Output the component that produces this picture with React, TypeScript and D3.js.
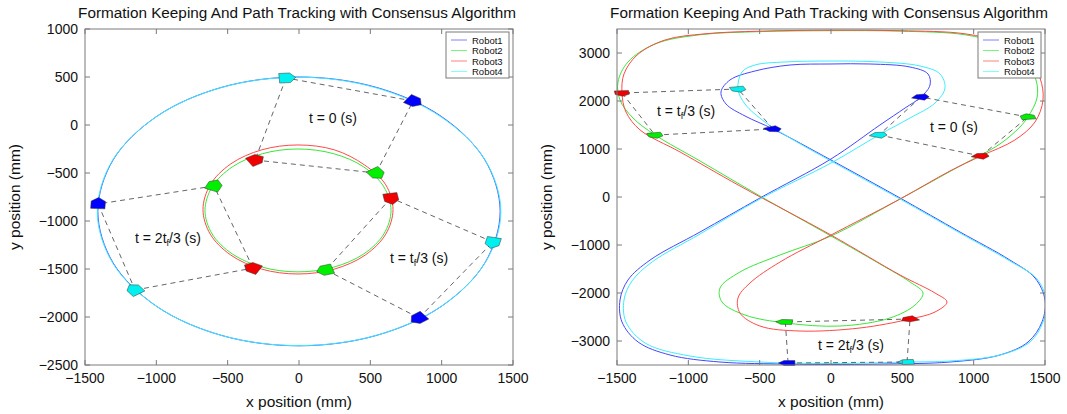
import React from 'react';
import * as d3 from 'd3';

// ---------- DATA ----------
const robots = ['Robot1', 'Robot2', 'Robot3', 'Robot4'];
const xTicks = [-1500, -1000, -500, 0, 500, 1000, 1500];
const leftYTicks = [1000, 500, 0, -500, -1000, -1500, -2000, -2500];
const rightYTicks = [3000, 2000, 1000, 0, -1000, -2000, -3000];
const titleText = 'Formation Keeping And Path Tracking with Consensus Algorithm';

// Left panel paths (mm), closed curves
const leftPathRobot1: [number, number][] = [
  [1410, -900], [1303, -364], [997, 90], [540, 393], [0, 500], [-540, 393], [-997, 90], [-1303, -364],
  [-1410, -900], [-1303, -1436], [-997, -1890], [-540, -2193], [0, -2300], [540, -2193], [997, -1890], [1303, -1436],
];
const leftPathRobot4: [number, number][] = [
  [1415, -905], [1306, -368], [995, 85], [535, 390], [-5, 498], [-545, 390], [-1000, 86], [-1307, -368],
  [-1414, -905], [-1305, -1440], [-994, -1893], [-536, -2195], [5, -2298], [545, -2190], [1000, -1886], [1306, -1432],
];
const leftPathRobot2: [number, number][] = [
  [645, -890], [595, -645], [454, -437], [243, -299], [-7, -250], [-257, -299], [-468, -437], [-609, -645],
  [-659, -890], [-609, -1135], [-468, -1343], [-257, -1481], [-7, -1530], [243, -1481], [454, -1343], [595, -1135],
];
const leftPathRobot3: [number, number][] = [
  [659, -880], [608, -623], [458, -415], [248, -259], [-7, -208], [-262, -259], [-478, -405], [-622, -623],
  [-673, -880], [-622, -1137], [-478, -1355], [-262, -1501], [-7, -1552], [248, -1501], [464, -1355], [608, -1137],
];

// Right panel paths (mm), closed curves
const rightPathRobot1: [number, number][] = [
  [631, 2083], [694, 2333], [680, 2563], [554, 2708], [273, 2771], [0, 2771], [-287, 2750], [-533, 2625],
  [-708, 2438], [-771, 2188], [-736, 1938], [-603, 1688], [-406, 1417], [0, 771], [484, -21], [904, -729],
  [1254, -1313], [1430, -1688], [1500, -2146], [1479, -2604], [1381, -3021], [1184, -3292], [834, -3438],
  [343, -3480], [0, -3490], [-301, -3480], [-778, -3438], [-1128, -3292], [-1352, -3021], [-1465, -2604],
  [-1479, -2146], [-1423, -1729], [-1268, -1313], [-918, -729], [-498, -21], [0, 792], [343, 1500], [519, 1854],
];
const rightPathRobot4: [number, number][] = [
  [336, 1292], [554, 1646], [729, 1958], [799, 2271], [764, 2563], [624, 2729], [343, 2813], [0, 2833],
  [-322, 2813], [-533, 2750], [-624, 2604], [-652, 2250], [-603, 1938], [-463, 1563], [-287, 1229], [0, 750],
  [484, -42], [904, -750], [1254, -1333], [1444, -1708], [1507, -2146], [1486, -2604], [1395, -3021],
  [1184, -3292], [834, -3417], [533, -3438], [0, -3470], [-498, -3438], [-988, -3313], [-1303, -3042],
  [-1437, -2604], [-1451, -2146], [-1395, -1750], [-1254, -1354], [-918, -771], [-498, -42], [0, 708],
];
const rightPathRobot3: [number, number][] = [
  [1051, 854], [1289, 1188], [1430, 1563], [1486, 2021], [1465, 2479], [1381, 2896], [1205, 3208], [939, 3400],
  [484, 3465], [0, 3475], [-498, 3455], [-883, 3400], [-1163, 3271], [-1359, 2958], [-1451, 2563],
  [-1465, 2167], [-1437, 1771], [-1338, 1396], [-1058, 938], [-638, 229], [0, -792], [484, -1625],
  [729, -2000], [813, -2188], [729, -2396], [554, -2542], [203, -2729], [-217, -2792], [-498, -2688],
  [-638, -2417], [-652, -2104], [-568, -1792], [-357, -1354], [0, -792], [484, -42], [834, 542],
];
const rightPathRobot2: [number, number][] = [
  [1380, 1667], [1444, 2063], [1437, 2438], [1359, 2854], [1184, 3188], [939, 3380], [484, 3455], [0, 3465],
  [-498, 3445], [-918, 3380], [-1233, 3188], [-1423, 2813], [-1493, 2396], [-1479, 2021], [-1388, 1646],
  [-1233, 1292], [-918, 750], [-498, 21], [0, -813], [343, -1396], [554, -1771], [645, -2000], [589, -2250],
  [413, -2521], [63, -2688], [-315, -2625], [-603, -2458], [-764, -2188], [-778, -1896], [-638, -1563],
  [-357, -1208], [0, -813], [484, -42], [904, 646], [1184, 1104], [1324, 1458],
];

// Robot poses [x, y, heading in degrees] per time instant: Robot1..Robot4
const leftPosesT0: [number, number, number][] = [[800, 250, -34], [540, -500, -54], [-308, -365, 31], [-91, 490, 4]];
const leftPosesT1: [number, number, number][] = [[841, -2010, -143], [189, -1510, -163], [645, -760, -80], [1359, -1219, -103]];
const leftPosesT2: [number, number, number][] = [[-1408, -823, 87], [-596, -635, 66], [-322, -1490, 152], [-1149, -1719, 126]];
const rightPosesT0: [number, number, number][] = [[631, 2083, 64], [1380, 1667, 100], [1051, 854, 58], [336, 1292, 59]];
const rightPosesT1: [number, number, number][] = [[-406, 1417, -57], [-1233, 1290, -77], [-1465, 2167, -85], [-652, 2250, -75]];
const rightPosesT2: [number, number, number][] = [[-301, -3458, 180], [-320, -2604, 175], [554, -2542, -150], [533, -3438, 185]];

// Formation edges (robot indices)
const formationEdges: [number, number][] = [[0, 3], [3, 2], [2, 1], [1, 0]];

// ---------- STYLE ----------
const lineColors = ['#4646ff', '#3ae63a', '#ff4848', '#3aeeff'];
const legendColors = ['#8080ff', '#7cf57c', '#ff8080', '#80ffff'];
const fillColors = ['#0000ff', '#00f000', '#f00000', '#00f0f0'];
const FONT = 'Liberation Sans, Arial, Helvetica, sans-serif';
const robotShape: [number, number][] = [[68, 0], [28, 50], [-48, 50], [-48, -50], [28, -50]];

type Scale = d3.ScaleLinear<number, number>;

function Panel({ sx, sy, yTicks, paths, poses, labels }: {
  sx: Scale; sy: Scale; yTicks: number[];
  paths: [number, number][][];
  poses: [number, number, number][][];
  labels: { x: number; y: number; pre: string; sub?: string; post?: string }[];
}) {
  const [x0, x1] = sx.range();
  const [y0, y1] = sy.range(); // y0 bottom, y1 top
  const id = 'clip' + Math.round(x0);
  const line = d3.line<[number, number]>().x(d => sx(d[0])).y(d => sy(d[1])).curve(d3.curveCatmullRomClosed.alpha(0.5));
  const robotPoly = (p: [number, number, number]) => {
    const h = (p[2] * Math.PI) / 180;
    return robotShape.map(([lx, ly]) => {
      const dx = lx * Math.cos(h) - ly * Math.sin(h);
      const dy = lx * Math.sin(h) + ly * Math.cos(h);
      return `${sx(p[0] + dx)},${sy(p[1] + dy)}`;
    }).join(' ');
  };
  const tickLen = 5;
  const axisColor = '#7a7a7a';
  const fmt = (v: number) => (v < 0 ? '\u2212' + Math.abs(v) : String(v));
  return (
    <g>
      <defs>
        <clipPath id={id}><rect x={x0} y={y1} width={x1 - x0} height={y0 - y1} /></clipPath>
      </defs>
      <g clipPath={`url(#${id})`}>
        {paths.map((p, i) => (
          <path key={i} d={line(p) || ''} fill="none" stroke={lineColors[i]} strokeWidth={1} />
        ))}
      </g>
      {poses.map((pp, t) => (
        <g key={'f' + t}>
          {formationEdges.map(([a, b], k) => (
            <line key={k} x1={sx(pp[a][0])} y1={sy(pp[a][1])} x2={sx(pp[b][0])} y2={sy(pp[b][1])}
              stroke="#555" strokeWidth={0.9} strokeDasharray="5,4" />
          ))}
        </g>
      ))}
      {poses.map((pp, t) => (
        <g key={'r' + t}>
          {pp.map((p, i) => (
            <polygon key={i} points={robotPoly(p)} fill={fillColors[i]} stroke="#333" strokeWidth={0.5} />
          ))}
        </g>
      ))}
      <rect x={x0} y={y1} width={x1 - x0} height={y0 - y1} fill="none" stroke={axisColor} strokeWidth={1} />
      {xTicks.map(v => (
        <g key={'x' + v}>
          <line x1={sx(v)} x2={sx(v)} y1={y0} y2={y0 - tickLen} stroke={axisColor} />
          <line x1={sx(v)} x2={sx(v)} y1={y1} y2={y1 + tickLen} stroke={axisColor} />
          <text x={sx(v)} y={y0 + 18} textAnchor="middle" fontSize={14} fontFamily={FONT} fill="#111">{fmt(v)}</text>
        </g>
      ))}
      {yTicks.map(v => (
        <g key={'y' + v}>
          <line x1={x0} x2={x0 + tickLen} y1={sy(v)} y2={sy(v)} stroke={axisColor} />
          <line x1={x1} x2={x1 - tickLen} y1={sy(v)} y2={sy(v)} stroke={axisColor} />
          <text x={x0 - 7} y={sy(v) + 5} textAnchor="end" fontSize={14} fontFamily={FONT} fill="#111">{fmt(v)}</text>
        </g>
      ))}
      <text x={(x0 + x1) / 2 - 2} y={18} textAnchor="middle" fontSize={15.3} fontFamily={FONT} fill="#111">{titleText}</text>
      <text x={(x0 + x1) / 2} y={407} textAnchor="middle" fontSize={15.5} fontFamily={FONT} fill="#111">x position (mm)</text>
      <text transform={`translate(${x0 - 65},${(y0 + y1) / 2}) rotate(-90)`} textAnchor="middle" fontSize={15.5} fontFamily={FONT} fill="#111">y position (mm)</text>
      {labels.map((l, i) => (
        <text key={i} x={l.x} y={l.y} fontSize={14} fontFamily={FONT} fill="#111">
          {l.pre}
          {l.sub ? <tspan fontSize={9} dy={3}>{l.sub}</tspan> : null}
          {l.post ? <tspan dy={l.sub ? -3 : 0}>{l.post}</tspan> : null}
        </text>
      ))}
      <g>
        <rect x={x1 - 67} y={y1 + 3} width={63} height={46} fill="#fff" stroke={axisColor} strokeWidth={1} />
        {robots.map((r, i) => (
          <g key={r}>
            <line x1={x1 - 62} x2={x1 - 46} y1={y1 + 11 + i * 10.5} y2={y1 + 11 + i * 10.5} stroke={legendColors[i]} strokeWidth={1} />
            <text x={x1 - 41} y={y1 + 14.5 + i * 10.5} fontSize={9.5} fontFamily={FONT} fill="#111">{r}</text>
          </g>
        ))}
      </g>
    </g>
  );
}

export default function App() {
  const lx = d3.scaleLinear().domain([-1500, 1500]).range([85, 513]);
  const ly = d3.scaleLinear().domain([-2500, 1000]).range([365, 29]);
  const rx = d3.scaleLinear().domain([-1500, 1500]).range([617, 1045]);
  const ry = d3.scaleLinear().domain([-3500, 3500]).range([365, 29]);
  return (
    <svg width={1067} height={414} style={{ position: 'absolute', left: 0, top: 0, background: '#fff' }}>
      <rect width={1067} height={414} fill="#fff" />
      <Panel sx={lx} sy={ly} yTicks={leftYTicks}
        paths={[leftPathRobot1, leftPathRobot2, leftPathRobot3, leftPathRobot4]}
        poses={[leftPosesT0, leftPosesT1, leftPosesT2]}
        labels={[
          { x: 309, y: 123, pre: 't = 0 (s)' },
          { x: 390, y: 263, pre: 't = t', sub: 'f', post: '/3 (s)' },
          { x: 135, y: 243, pre: 't = 2t', sub: 'f', post: '/3 (s)' },
        ]} />
      <Panel sx={rx} sy={ry} yTicks={rightYTicks}
        paths={[rightPathRobot1, rightPathRobot2, rightPathRobot3, rightPathRobot4]}
        poses={[rightPosesT0, rightPosesT1, rightPosesT2]}
        labels={[
          { x: 930, y: 132, pre: 't = 0 (s)' },
          { x: 657, y: 116, pre: 't = t', sub: 'f', post: '/3 (s)' },
          { x: 818, y: 350, pre: 't = 2t', sub: 'f', post: '/3 (s)' },
        ]} />
    </svg>
  );
}
